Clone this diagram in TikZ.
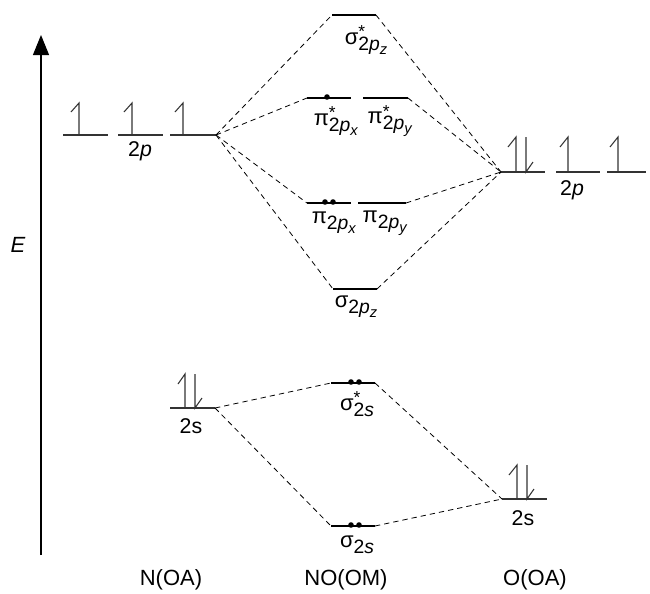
\documentclass[tikz,border=0pt]{standalone}
\usepackage{fontspec}
\setmainfont{Liberation Sans}
\usetikzlibrary{arrows.meta}
\newcommand\molab[4]{#1\rlap{\raisebox{0.6ex}{\fontsize{13}{13}\selectfont #2}}\raisebox{-0.5ex}{\fontsize{14.5}{14.5}\selectfont 2\textit{#3}\raisebox{-0.4ex}{\fontsize{11}{11}\selectfont\textit{#4}}}}
\newcommand\moslab[2]{σ\rlap{\raisebox{0.6ex}{\fontsize{13}{13}\selectfont #1}}\raisebox{-0.5ex}{\fontsize{14.5}{14.5}\selectfont #2}}
\begin{document}
\begin{tikzpicture}[x=0.75pt,y=-0.75pt,
  ao/.style={draw=black!80,line width=0.8pt},
  mo/.style={draw=black,line width=1.5pt},
  conn/.style={draw=black,line width=0.6pt,dash pattern=on 4pt off 3pt},
  elec/.style={draw=black!80,line width=0.8pt},
  dot/.style={fill=black,circle,inner sep=0pt,minimum size=4.2pt},
  lbl/.style={font=\fontsize{16.5}{16.5}\selectfont,inner sep=0pt},
  sm/.style={font=\fontsize{16}{16}\selectfont,inner sep=0pt}]
\useasboundingbox (0,0) rectangle (650,593);
% energy axis
\coordinate (Ebot) at (41,555);
\coordinate (Etop) at (41,35);
\draw[line width=0.8pt,-{Triangle[width=12pt,length=15pt]}] (Ebot) -- (Etop);
\node[lbl] (E) at (18,245) {\textit{E}};
% N 2p
\foreach \a/\b/\xx in {63/108/79,118/163/132,170/216/183}{
  \draw[ao] (\a,135) -- (\b,135);
  \draw[elec] (\xx,135) -- (\xx,103) -- (\xx-8,112);
}
\coordinate (N2p) at (216,135);
\node[sm] (N2plab) at (140,151) {2\textit{p}};
% N 2s
\draw[ao] (170,408) -- (215,408);
\coordinate (N2s) at (215,408);
\draw[elec] (185,408) -- (185,374) -- (178,384);
\draw[elec] (195,374) -- (195,408) -- (202,398);
\node[sm] (N2slab) at (191,426) {2s};
% O 2p
\foreach \a/\b in {501/545,556/600,607/646}{\draw[ao] (\a,172) -- (\b,172);}
\coordinate (O2p) at (501,172);
\draw[elec] (516,172) -- (516,137) -- (508,147);
\draw[elec] (526,137) -- (526,172) -- (533,162);
\draw[elec] (568,172) -- (568,137) -- (560,147);
\draw[elec] (618,172) -- (618,137) -- (610,147);
\node[sm] (O2plab) at (572,190) {2\textit{p}};
% O 2s
\draw[ao] (502,499) -- (547,499);
\coordinate (O2s) at (502,499);
\draw[elec] (517,499) -- (517,465) -- (509,475);
\draw[elec] (527,465) -- (527,499) -- (534,489);
\node[sm] (O2slab) at (523,518) {2s};
% MO levels
\coordinate (sszL) at (332,15); \coordinate (sszR) at (376,15);
\draw[mo] (sszL) -- (sszR);
\node[lbl] (sszlab) at (366,40) {\molab{σ}{*}{p}{z}};
\coordinate (pixsL) at (307,98); \coordinate (pixsR) at (351,98);
\coordinate (piysL) at (363,98); \coordinate (piysR) at (408,98);
\draw[mo] (pixsL) -- (pixsR); \draw[mo] (piysL) -- (piysR);
\node[dot] (d1) at (327,97) {};
\node[lbl] (pixslab) at (336,121) {\molab{π}{*}{p}{x}};
\node[lbl] (piyslab) at (390,121) {\molab{π}{*}{p}{y}};
\coordinate (pixL) at (307,203); \coordinate (pixR) at (351,203);
\coordinate (piyL) at (358,203); \coordinate (piyR) at (406,203);
\draw[mo] (pixL) -- (pixR); \draw[mo] (piyL) -- (piyR);
\node[dot] (d2) at (325,202) {}; \node[dot] (d3) at (333,202) {};
\node[lbl] (pixlab) at (334,223) {\molab{π}{}{p}{x}};
\node[lbl] (piylab) at (385,223) {\molab{π}{}{p}{y}};
\coordinate (szL) at (333,289); \coordinate (szR) at (377,289);
\draw[mo] (szL) -- (szR);
\node[lbl] (szlab) at (356,307) {\molab{σ}{}{p}{z}};
\coordinate (sssL) at (331,383); \coordinate (sssR) at (375,383);
\draw[mo] (sssL) -- (sssR);
\node[dot] (d4) at (351,382) {}; \node[dot] (d5) at (359,382) {};
\node[lbl] (ssslab) at (357,404) {\moslab{*}{2\textit{s}}};
\coordinate (ssL) at (331,526); \coordinate (ssR) at (375,526);
\draw[mo] (ssL) -- (ssR);
\node[dot] (d6) at (351,525) {}; \node[dot] (d7) at (359,525) {};
\node[lbl] (sslab) at (357,545) {\moslab{}{2\textit{s}}};
% connectors
\draw[conn] (N2p) -- (sszL);
\draw[conn] (N2p) -- (pixsL);
\draw[conn] (N2p) -- (pixL);
\draw[conn] (N2p) -- (szL);
\draw[conn] (sszR) -- (O2p);
\draw[conn] (piysR) -- (O2p);
\draw[conn] (piyR) -- (O2p);
\draw[conn] (szR) -- (O2p);
\draw[conn] (N2s) -- (sssL);
\draw[conn] (N2s) -- (ssL);
\draw[conn] (sssR) -- (O2s);
\draw[conn] (ssR) -- (O2s);
% bottom labels
\node[lbl] (NOA) at (171,580) {N(OA)};
\node[lbl] (NOOM) at (346,580) {NO(OM)};
\node[lbl] (OOA) at (535,580) {O(OA)};
\end{tikzpicture}
\end{document}
